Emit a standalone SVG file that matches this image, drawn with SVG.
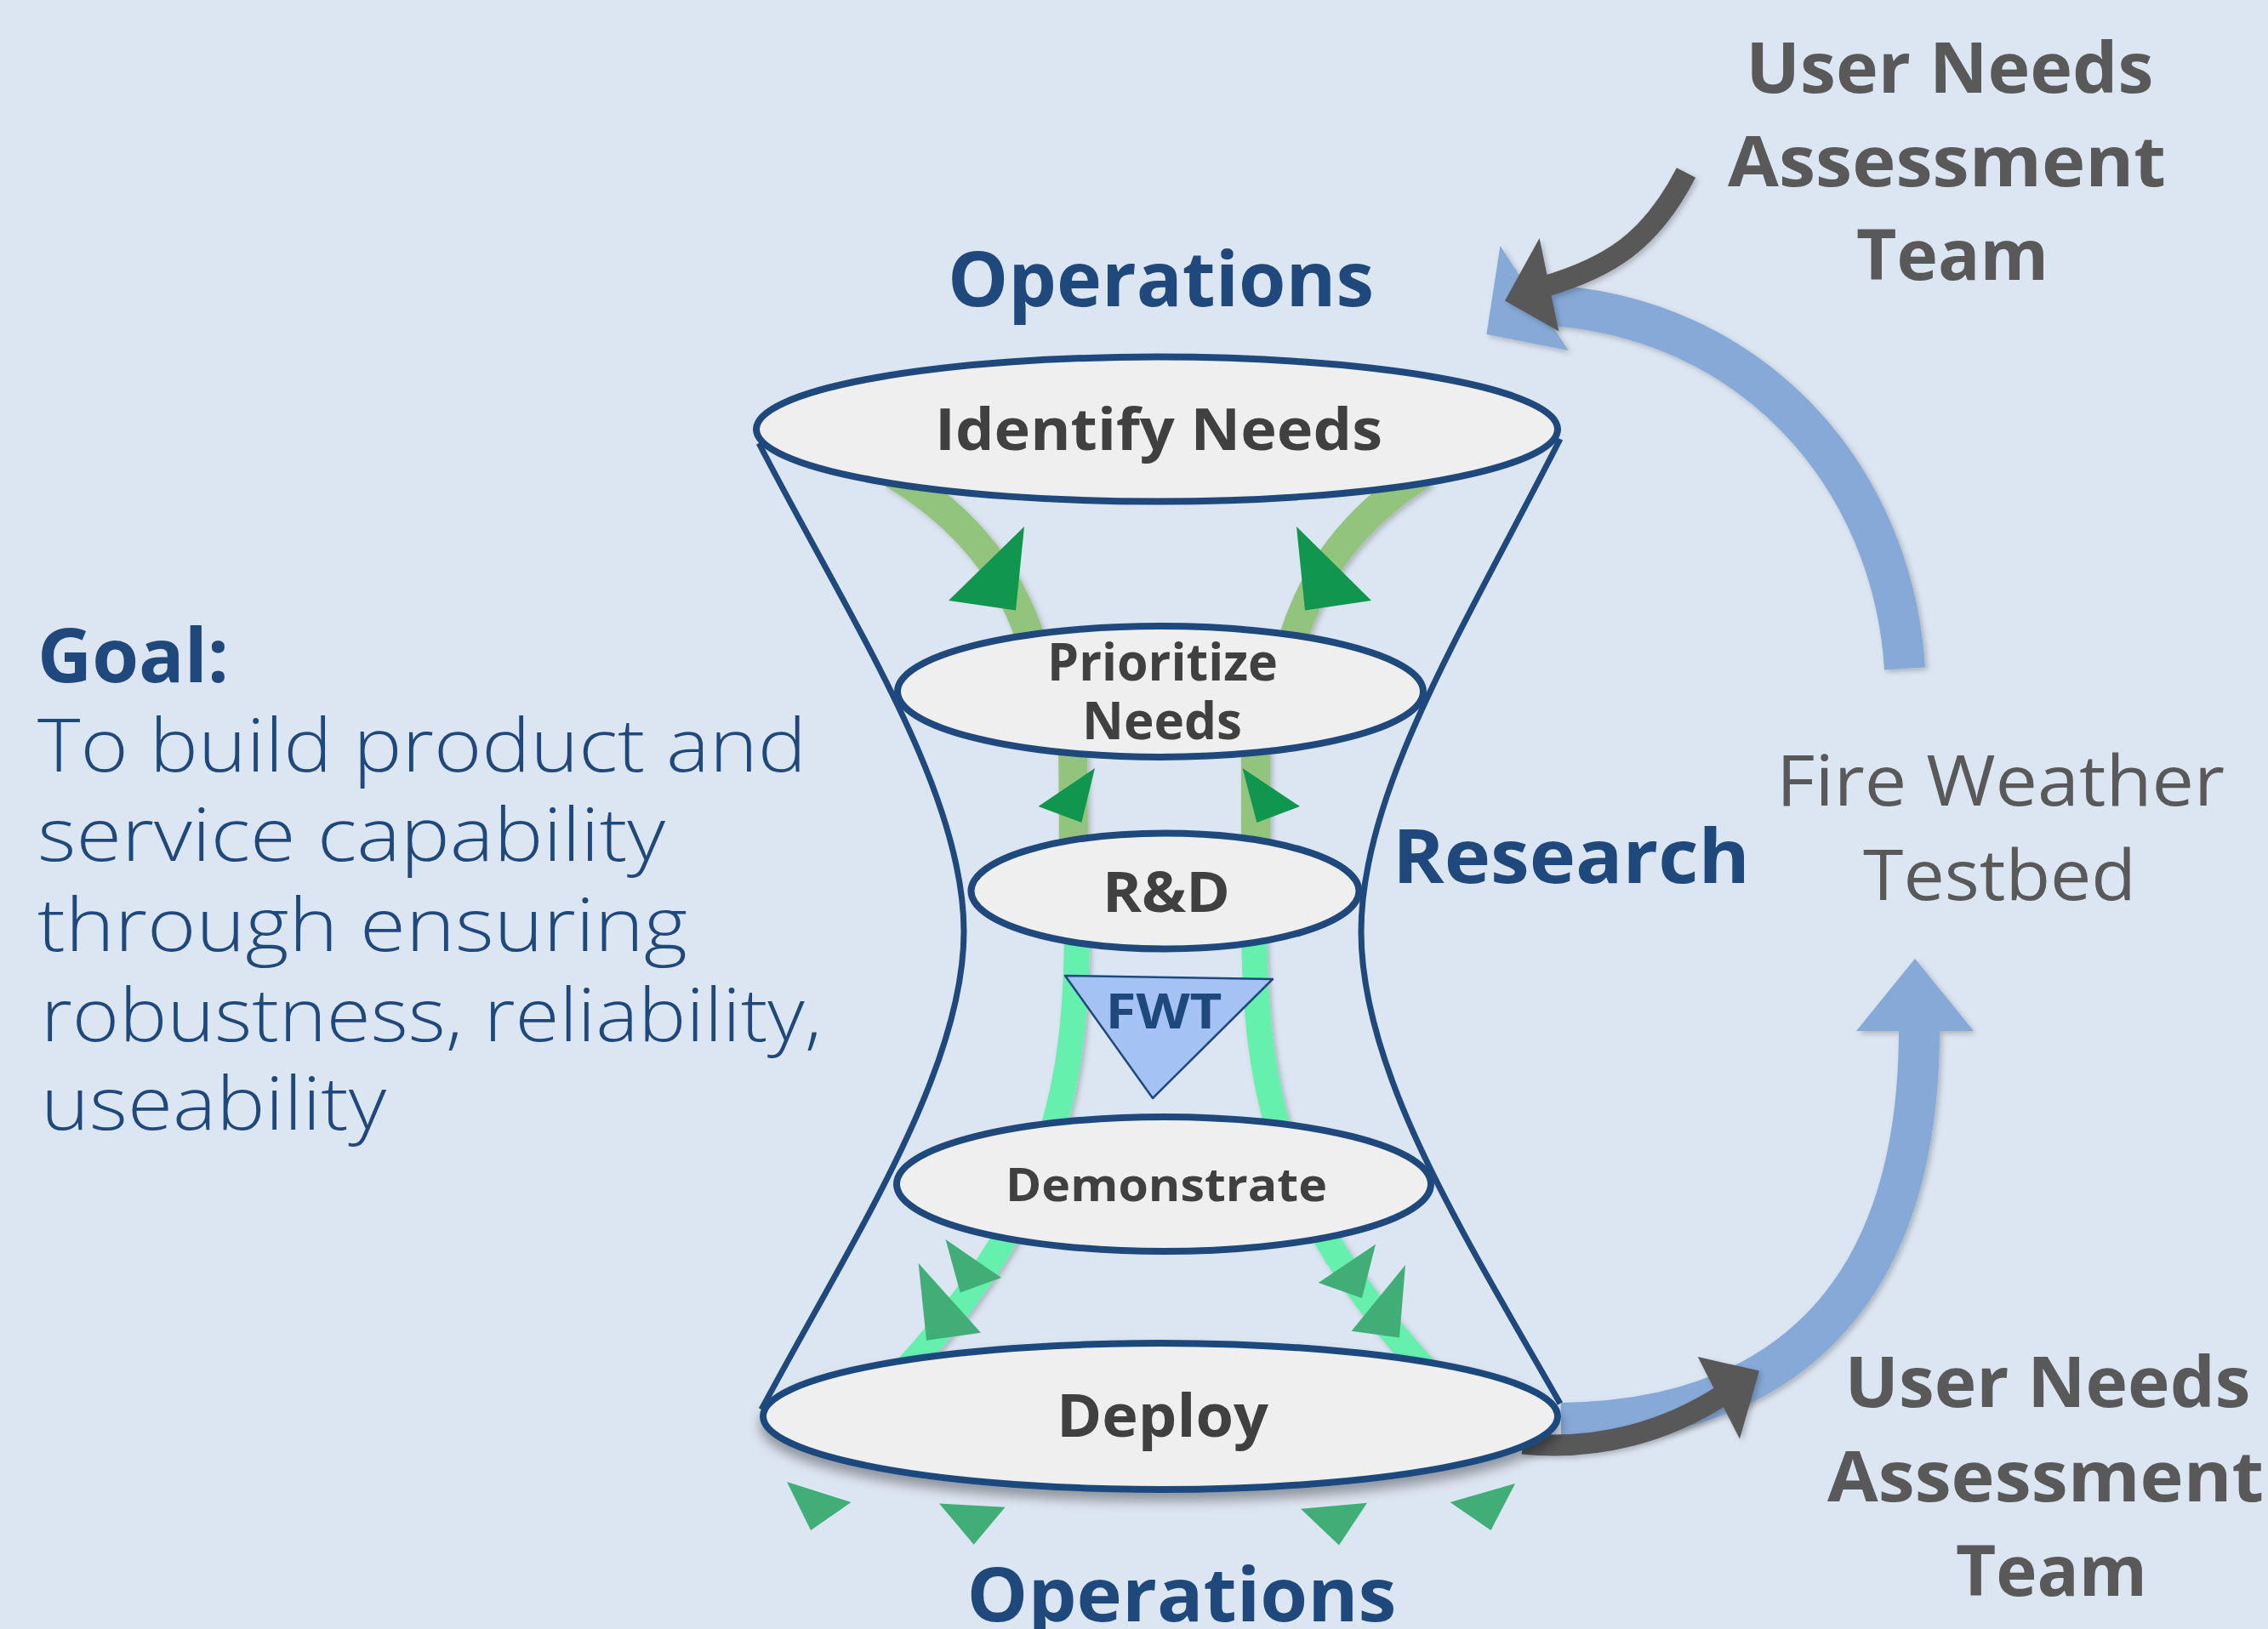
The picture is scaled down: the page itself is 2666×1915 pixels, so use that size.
<svg xmlns="http://www.w3.org/2000/svg" width="2666" height="1915" viewBox="0 0 2666 1915">
  <defs>
    <style>
      .node ellipse { fill: #efefef; stroke: #1f497d; stroke-width: 8; }
      .txt { font-family: "Open Sans", "DejaVu Sans", sans-serif; }
      .lbl { font-weight: 700; fill: #404040; text-anchor: middle; }
      .head { font-weight: 700; fill: #1f497d; text-anchor: middle; }
      .team { font-weight: 700; fill: #595959; text-anchor: middle; }
      .bed { font-weight: 500; fill: #595959; text-anchor: middle; }
      .goal { font-weight: 300; fill: #1f497d; }
      .funnel { fill: none; stroke: #1f497d; stroke-width: 7; }
      .band-lg { fill: none; stroke: #93c47d; stroke-width: 34; }
      .band-aq { fill: none; stroke: #66f0ae; stroke-width: 30; }
      .arc-blue { fill: none; stroke: #86a9d7; stroke-width: 48; }
      .arc-gray { fill: none; stroke: #595959; stroke-width: 25; }
      .head-dk { fill: #10964f; }
      .head-md { fill: #41ae78; }
    </style>
    <filter id="soft" x="-20%" y="-20%" width="140%" height="140%">
      <feDropShadow dx="3" dy="3" stdDeviation="3" flood-color="#000" flood-opacity="0.22"/>
    </filter>
    <filter id="lift" x="-10%" y="-20%" width="120%" height="160%">
      <feDropShadow dx="0" dy="10" stdDeviation="7" flood-color="#000" flood-opacity="0.35"/>
    </filter>
  </defs>

  <rect x="0" y="0" width="2666" height="1915" fill="#dce6f2"/>

  <!-- connectors: flow bands, cycle arcs and arrowheads -->
  <g id="connectors">
    <g filter="url(#soft)">
      <path class="band-lg" d="M 1048 556 Q 1190 640 1222 790"/>
      <path class="band-lg" d="M 1674 556 Q 1540 640 1510 790"/>
      <path class="band-lg" d="M 1261 860 L 1262 1000"/>
      <path class="band-lg" d="M 1476 860 L 1476 1000"/>
      <path class="band-aq" d="M 1266 1090 C 1265 1280 1240 1420 1060 1615"/>
      <path class="band-aq" d="M 1474 1090 C 1476 1280 1500 1420 1680 1615"/>
    </g>
    <g filter="url(#soft)">
      <path class="arc-blue" d="M 2239 786 C 2225 560 2060 370 1810 358"/>
      <polygon fill="#86a9d7" points="1763.5,289 1747.4,393 1843.5,412"/>
      <path class="arc-blue" d="M 1835 1673 C 2080 1670 2256 1540 2256 1210"/>
      <polygon fill="#86a9d7" points="2182,1212 2251,1127 2320,1212"/>
    </g>
    <g filter="url(#soft)">
      <path class="arc-gray" d="M 1982 203 C 1940 285 1890 315 1815 337"/>
      <polygon fill="#595959" points="1809.6,280 1769,353.6 1832.4,389.6"/>
      <path class="arc-gray" d="M 1790 1697 C 1880 1706 1960 1682 2025 1640"/>
      <polygon fill="#595959" points="1995.7,1595 2068,1611.6 2045,1691.6"/>
    </g>
  </g>

  <!-- hourglass outline -->
  <g id="funnel">
    <path class="funnel" d="M 892 521 C 1000 730 1133 930 1133 1095 C 1133 1260 1000 1460 895 1657"/>
    <path class="funnel" d="M 1834 516 C 1720 740 1600 930 1600 1095 C 1600 1260 1720 1450 1834 1650"/>
  </g>

  <g id="identify-needs" class="node">
    <ellipse cx="1360" cy="504.6" rx="471" ry="85"/>
    <text class="txt lbl" x="1362" y="529" font-size="68" textLength="526" lengthAdjust="spacingAndGlyphs">Identify Needs</text>
  </g>

  <g id="prioritize-needs" class="node">
    <ellipse cx="1364" cy="813" rx="309" ry="77"/>
    <text class="txt lbl" x="1366.5" y="799.6" font-size="60" textLength="271" lengthAdjust="spacingAndGlyphs">Prioritize</text>
    <text class="txt lbl" x="1366" y="868.5" font-size="60" textLength="188" lengthAdjust="spacingAndGlyphs">Needs</text>
  </g>

  <g id="r-and-d" class="node">
    <ellipse cx="1369.5" cy="1047.5" rx="228" ry="68"/>
    <text class="txt lbl" x="1371" y="1072" font-size="67" textLength="150" lengthAdjust="spacingAndGlyphs">R&amp;D</text>
  </g>

  <g id="demonstrate" class="node">
    <ellipse cx="1368" cy="1392" rx="314" ry="79"/>
    <text class="txt lbl" x="1371" y="1411.8" font-size="53" textLength="378" lengthAdjust="spacingAndGlyphs">Demonstrate</text>
  </g>

  <g id="deploy" class="node">
    <ellipse cx="1364" cy="1665" rx="467" ry="86" filter="url(#lift)"/>
    <text class="txt lbl" x="1366.5" y="1689" font-size="69" textLength="249" lengthAdjust="spacingAndGlyphs">Deploy</text>
  </g>

  <!-- flow arrowheads -->
  <g id="arrowheads">
    <polygon class="head-dk" points="1204,619 1115,706 1194,717.5"/>
    <polygon class="head-dk" points="1524,619 1612,706 1534,717.5"/>
    <polygon class="head-dk" points="1287,903 1220.5,948 1271.4,967"/>
    <polygon class="head-dk" points="1460.5,903 1528,948 1477.4,967"/>
    <polygon class="head-md" points="1111.5,1457 1177,1502 1128.7,1519.6"/>
    <polygon class="head-md" points="1079.6,1485 1153,1566.7 1089,1575.7"/>
    <polygon class="head-md" points="1617,1462.8 1601,1526 1549.7,1508"/>
    <polygon class="head-md" points="1652,1487 1645,1572.6 1588.6,1564.7"/>
    <polygon class="head-md" points="925,1742 1000.5,1766 953,1799"/>
    <polygon class="head-md" points="1104,1767.5 1181.6,1771.8 1144.7,1815.7"/>
    <polygon class="head-md" points="1529,1773.8 1607,1766.7 1574,1816.5"/>
    <polygon class="head-md" points="1704.6,1766 1781,1744 1752.5,1799"/>
  </g>

  <g id="fwt">
    <polygon points="1252,1147 1496,1151 1355,1291" fill="#a4c2f4" stroke="#1f497d" stroke-width="2.5" stroke-linejoin="round"/>
    <text class="txt head" x="1368" y="1208.7" font-size="58" textLength="137" lengthAdjust="spacingAndGlyphs">FWT</text>
  </g>

  <!-- stage headings -->
  <g id="headings">
    <text class="txt head" x="1364.5" y="360" font-size="90" textLength="501" lengthAdjust="spacingAndGlyphs">Operations</text>
    <text class="txt head" x="1389" y="1906" font-size="88" textLength="505" lengthAdjust="spacingAndGlyphs">Operations</text>
    <text class="txt head" x="1847" y="1038" font-size="88" textLength="420" lengthAdjust="spacingAndGlyphs">Research</text>
  </g>

  <g id="testbed">
    <text class="txt bed" x="2351.5" y="947" font-size="82" textLength="527" lengthAdjust="spacingAndGlyphs">Fire Weather</text>
    <text class="txt bed" x="2350.5" y="1057.6" font-size="82" textLength="321" lengthAdjust="spacingAndGlyphs">Testbed</text>
  </g>

  <g id="team-top">
    <text class="txt team" x="2291.8" y="109" font-size="82" textLength="479" lengthAdjust="spacingAndGlyphs">User Needs</text>
    <text class="txt team" x="2288.5" y="218.6" font-size="82" textLength="515" lengthAdjust="spacingAndGlyphs">Assessment</text>
    <text class="txt team" x="2295" y="328.5" font-size="82" textLength="226" lengthAdjust="spacingAndGlyphs">Team</text>
  </g>

  <g id="team-bottom">
    <text class="txt team" x="2407" y="1654" font-size="82" textLength="477" lengthAdjust="spacingAndGlyphs">User Needs</text>
    <text class="txt team" x="2404.5" y="1764.5" font-size="82" textLength="513" lengthAdjust="spacingAndGlyphs">Assessment</text>
    <text class="txt team" x="2411.5" y="1876" font-size="82" textLength="225" lengthAdjust="spacingAndGlyphs">Team</text>
  </g>

  <g id="goal">
    <text class="txt" x="44" y="801.6" font-size="88" font-weight="700" fill="#1f497d" textLength="225" lengthAdjust="spacingAndGlyphs">Goal:</text>
    <text class="txt goal" x="44" y="907" font-size="86" textLength="904" lengthAdjust="spacingAndGlyphs">To build product and</text>
    <text class="txt goal" x="44" y="1011.7" font-size="86" textLength="738" lengthAdjust="spacingAndGlyphs">service capability</text>
    <text class="txt goal" x="44" y="1117.8" font-size="86" textLength="764" lengthAdjust="spacingAndGlyphs">through ensuring</text>
    <text class="txt goal" x="48" y="1224" font-size="86" textLength="918" lengthAdjust="spacingAndGlyphs">robustness, reliability,</text>
    <text class="txt goal" x="48" y="1328" font-size="86" textLength="406" lengthAdjust="spacingAndGlyphs">useability</text>
  </g>
</svg>
